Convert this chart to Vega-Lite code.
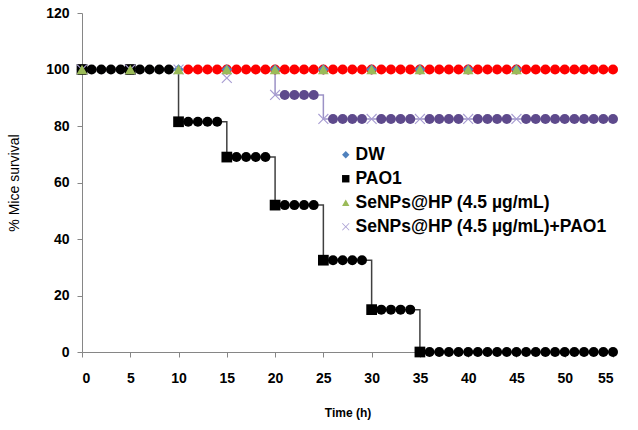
{
  "$schema": "https://vega.github.io/schema/vega-lite/v6.json",
  "width": 531,
  "height": 339,
  "autosize": {"type": "none"},
  "padding": {"left": 82, "top": 13, "right": 25, "bottom": 78},
  "background": "white",
  "config": {
    "view": {"stroke": null},
    "font": "Liberation Sans",
    "axis": {"grid": false, "domainColor": "#868686", "tickColor": "#868686", "tickSize": 5, "labelFont": "Liberation Sans", "labelFontWeight": "bold", "labelFontSize": 14, "labelColor": "#000000", "titleColor": "#000000", "titleFont": "Liberation Sans"}
  },
  "datasets": {
    "steps": [
      {"t": 0, "s": 100, "series": "PAO1"}, {"t": 10, "s": 81.5, "series": "PAO1"}, {"t": 15, "s": 69, "series": "PAO1"}, {"t": 20, "s": 52, "series": "PAO1"}, {"t": 25, "s": 32.5, "series": "PAO1"}, {"t": 30, "s": 15, "series": "PAO1"}, {"t": 35, "s": 0, "series": "PAO1"}, {"t": 55, "s": 0, "series": "PAO1"},
      {"t": 0, "s": 100, "series": "SP"}, {"t": 20, "s": 91, "series": "SP"}, {"t": 25, "s": 82.5, "series": "SP"}, {"t": 55, "s": 82.5, "series": "SP"}
    ],
    "censor": [
      {"t": 11, "s": 100, "series": "DW"}, {"t": 12, "s": 100, "series": "DW"}, {"t": 13, "s": 100, "series": "DW"}, {"t": 14, "s": 100, "series": "DW"}, {"t": 15, "s": 100, "series": "DW"}, {"t": 16, "s": 100, "series": "DW"}, {"t": 17, "s": 100, "series": "DW"}, {"t": 18, "s": 100, "series": "DW"}, {"t": 19, "s": 100, "series": "DW"}, {"t": 20, "s": 100, "series": "DW"},
      {"t": 21, "s": 100, "series": "DW"}, {"t": 22, "s": 100, "series": "DW"}, {"t": 23, "s": 100, "series": "DW"}, {"t": 24, "s": 100, "series": "DW"}, {"t": 25, "s": 100, "series": "DW"}, {"t": 26, "s": 100, "series": "DW"}, {"t": 27, "s": 100, "series": "DW"}, {"t": 28, "s": 100, "series": "DW"}, {"t": 29, "s": 100, "series": "DW"}, {"t": 30, "s": 100, "series": "DW"},
      {"t": 31, "s": 100, "series": "DW"}, {"t": 32, "s": 100, "series": "DW"}, {"t": 33, "s": 100, "series": "DW"}, {"t": 34, "s": 100, "series": "DW"}, {"t": 35, "s": 100, "series": "DW"}, {"t": 36, "s": 100, "series": "DW"}, {"t": 37, "s": 100, "series": "DW"}, {"t": 38, "s": 100, "series": "DW"}, {"t": 39, "s": 100, "series": "DW"}, {"t": 40, "s": 100, "series": "DW"},
      {"t": 41, "s": 100, "series": "DW"}, {"t": 42, "s": 100, "series": "DW"}, {"t": 43, "s": 100, "series": "DW"}, {"t": 44, "s": 100, "series": "DW"}, {"t": 45, "s": 100, "series": "DW"}, {"t": 46, "s": 100, "series": "DW"}, {"t": 47, "s": 100, "series": "DW"}, {"t": 48, "s": 100, "series": "DW"}, {"t": 49, "s": 100, "series": "DW"}, {"t": 50, "s": 100, "series": "DW"},
      {"t": 51, "s": 100, "series": "DW"}, {"t": 52, "s": 100, "series": "DW"}, {"t": 53, "s": 100, "series": "DW"}, {"t": 54, "s": 100, "series": "DW"}, {"t": 55, "s": 100, "series": "DW"},
      {"t": 1, "s": 100, "series": "PAO1"}, {"t": 2, "s": 100, "series": "PAO1"}, {"t": 3, "s": 100, "series": "PAO1"}, {"t": 4, "s": 100, "series": "PAO1"}, {"t": 6, "s": 100, "series": "PAO1"}, {"t": 7, "s": 100, "series": "PAO1"}, {"t": 8, "s": 100, "series": "PAO1"}, {"t": 9, "s": 100, "series": "PAO1"},
      {"t": 11, "s": 81.5, "series": "PAO1"}, {"t": 12, "s": 81.5, "series": "PAO1"}, {"t": 13, "s": 81.5, "series": "PAO1"}, {"t": 14, "s": 81.5, "series": "PAO1"},
      {"t": 16, "s": 69, "series": "PAO1"}, {"t": 17, "s": 69, "series": "PAO1"}, {"t": 18, "s": 69, "series": "PAO1"}, {"t": 19, "s": 69, "series": "PAO1"},
      {"t": 21, "s": 52, "series": "PAO1"}, {"t": 22, "s": 52, "series": "PAO1"}, {"t": 23, "s": 52, "series": "PAO1"}, {"t": 24, "s": 52, "series": "PAO1"},
      {"t": 26, "s": 32.5, "series": "PAO1"}, {"t": 27, "s": 32.5, "series": "PAO1"}, {"t": 28, "s": 32.5, "series": "PAO1"}, {"t": 29, "s": 32.5, "series": "PAO1"},
      {"t": 31, "s": 15, "series": "PAO1"}, {"t": 32, "s": 15, "series": "PAO1"}, {"t": 33, "s": 15, "series": "PAO1"}, {"t": 34, "s": 15, "series": "PAO1"},
      {"t": 36, "s": 0, "series": "PAO1"}, {"t": 37, "s": 0, "series": "PAO1"}, {"t": 38, "s": 0, "series": "PAO1"}, {"t": 39, "s": 0, "series": "PAO1"}, {"t": 40, "s": 0, "series": "PAO1"}, {"t": 41, "s": 0, "series": "PAO1"}, {"t": 42, "s": 0, "series": "PAO1"}, {"t": 43, "s": 0, "series": "PAO1"}, {"t": 44, "s": 0, "series": "PAO1"}, {"t": 45, "s": 0, "series": "PAO1"},
      {"t": 46, "s": 0, "series": "PAO1"}, {"t": 47, "s": 0, "series": "PAO1"}, {"t": 48, "s": 0, "series": "PAO1"}, {"t": 49, "s": 0, "series": "PAO1"}, {"t": 50, "s": 0, "series": "PAO1"}, {"t": 51, "s": 0, "series": "PAO1"}, {"t": 52, "s": 0, "series": "PAO1"}, {"t": 53, "s": 0, "series": "PAO1"}, {"t": 54, "s": 0, "series": "PAO1"}, {"t": 55, "s": 0, "series": "PAO1"},
      {"t": 21, "s": 91, "series": "SP"}, {"t": 22, "s": 91, "series": "SP"}, {"t": 23, "s": 91, "series": "SP"}, {"t": 24, "s": 91, "series": "SP"},
      {"t": 26, "s": 82.5, "series": "SP"}, {"t": 27, "s": 82.5, "series": "SP"}, {"t": 28, "s": 82.5, "series": "SP"}, {"t": 29, "s": 82.5, "series": "SP"},
      {"t": 31, "s": 82.5, "series": "SP"}, {"t": 32, "s": 82.5, "series": "SP"}, {"t": 33, "s": 82.5, "series": "SP"}, {"t": 34, "s": 82.5, "series": "SP"},
      {"t": 36, "s": 82.5, "series": "SP"}, {"t": 37, "s": 82.5, "series": "SP"}, {"t": 38, "s": 82.5, "series": "SP"}, {"t": 39, "s": 82.5, "series": "SP"},
      {"t": 41, "s": 82.5, "series": "SP"}, {"t": 42, "s": 82.5, "series": "SP"}, {"t": 43, "s": 82.5, "series": "SP"}, {"t": 44, "s": 82.5, "series": "SP"},
      {"t": 46, "s": 82.5, "series": "SP"}, {"t": 47, "s": 82.5, "series": "SP"}, {"t": 48, "s": 82.5, "series": "SP"}, {"t": 49, "s": 82.5, "series": "SP"}, {"t": 50, "s": 82.5, "series": "SP"},
      {"t": 51, "s": 82.5, "series": "SP"}, {"t": 52, "s": 82.5, "series": "SP"}, {"t": 53, "s": 82.5, "series": "SP"}, {"t": 54, "s": 82.5, "series": "SP"}, {"t": 55, "s": 82.5, "series": "SP"}
    ],
    "events": [
      {"t": 0, "s": 100, "series": "DW"}, {"t": 5, "s": 100, "series": "DW"}, {"t": 10, "s": 100, "series": "DW"}, {"t": 15, "s": 100, "series": "DW"}, {"t": 20, "s": 100, "series": "DW"}, {"t": 25, "s": 100, "series": "DW"}, {"t": 30, "s": 100, "series": "DW"}, {"t": 35, "s": 100, "series": "DW"}, {"t": 40, "s": 100, "series": "DW"}, {"t": 45, "s": 100, "series": "DW"},
      {"t": 0, "s": 100, "series": "PAO1"}, {"t": 5, "s": 100, "series": "PAO1"}, {"t": 10, "s": 81.5, "series": "PAO1"}, {"t": 15, "s": 69, "series": "PAO1"}, {"t": 20, "s": 52, "series": "PAO1"}, {"t": 25, "s": 32.5, "series": "PAO1"}, {"t": 30, "s": 15, "series": "PAO1"}, {"t": 35, "s": 0, "series": "PAO1"},
      {"t": 0, "s": 100, "series": "SeNPs@HP (4.5 µg/mL)+PAO1"}, {"t": 5, "s": 100, "series": "SeNPs@HP (4.5 µg/mL)+PAO1"}, {"t": 10, "s": 100, "series": "SeNPs@HP (4.5 µg/mL)+PAO1"}, {"t": 15, "s": 97, "series": "SeNPs@HP (4.5 µg/mL)+PAO1"}, {"t": 20, "s": 91, "series": "SeNPs@HP (4.5 µg/mL)+PAO1"}, {"t": 25, "s": 82.5, "series": "SeNPs@HP (4.5 µg/mL)+PAO1"}, {"t": 30, "s": 82.5, "series": "SeNPs@HP (4.5 µg/mL)+PAO1"}, {"t": 35, "s": 82.5, "series": "SeNPs@HP (4.5 µg/mL)+PAO1"}, {"t": 40, "s": 82.5, "series": "SeNPs@HP (4.5 µg/mL)+PAO1"}, {"t": 45, "s": 82.5, "series": "SeNPs@HP (4.5 µg/mL)+PAO1"},
      {"t": 0, "s": 100, "series": "SeNPs@HP (4.5 µg/mL)"}, {"t": 5, "s": 100, "series": "SeNPs@HP (4.5 µg/mL)"}, {"t": 10, "s": 100, "series": "SeNPs@HP (4.5 µg/mL)"}, {"t": 15, "s": 100, "series": "SeNPs@HP (4.5 µg/mL)"}, {"t": 20, "s": 100, "series": "SeNPs@HP (4.5 µg/mL)"}, {"t": 25, "s": 100, "series": "SeNPs@HP (4.5 µg/mL)"}, {"t": 30, "s": 100, "series": "SeNPs@HP (4.5 µg/mL)"}, {"t": 35, "s": 100, "series": "SeNPs@HP (4.5 µg/mL)"}, {"t": 40, "s": 100, "series": "SeNPs@HP (4.5 µg/mL)"}, {"t": 45, "s": 100, "series": "SeNPs@HP (4.5 µg/mL)"}
    ]
  },
  "encoding": {
    "x": {"field": "t", "type": "quantitative", "scale": {"domain": [0, 55], "nice": false}, "axis": {"values": [0,5,10,15,20,25,30,35,40,45,50,55], "title": "Time (h)", "titleFontWeight": "bold", "titleFontSize": 12, "titlePadding": 22, "labelPadding": 14}},
    "y": {"field": "s", "type": "quantitative", "scale": {"domain": [0, 120], "nice": false}, "axis": {"values": [0,20,40,60,80,100,120], "title": "% Mice survival", "titleFontWeight": "normal", "titleFontSize": 14, "titlePadding": 24, "labelPadding": 8}}
  },
  "layer": [
    {
      "data": {"name": "steps"},
      "mark": {"type": "line", "interpolate": "step-after", "strokeWidth": 1.5},
      "encoding": {
        "detail": {"field": "series"},
        "color": {"field": "series", "type": "nominal", "scale": {"domain": ["PAO1", "SP"], "range": ["#404040", "#9C92C6"]}, "legend": null}
      }
    },
    {
      "data": {"name": "censor"},
      "mark": {"type": "point", "filled": true, "shape": "circle", "size": 100, "opacity": 1},
      "encoding": {
        "color": {"field": "series", "type": "nominal", "scale": {"domain": ["DW", "PAO1", "SP"], "range": ["#FF0000", "#000000", "#5E4A8C"]}, "legend": null}
      }
    },
    {
      "data": {"name": "events"},
      "mark": {"type": "point", "filled": true, "size": 115, "opacity": 1},
      "encoding": {
        "color": {"field": "series", "type": "nominal",
          "scale": {"domain": ["DW", "PAO1", "SeNPs@HP (4.5 µg/mL)", "SeNPs@HP (4.5 µg/mL)+PAO1"], "range": ["#4F81BD", "#000000", "#9BBB59", "#A79CD2"]},
          "legend": {"title": null, "orient": "none", "legendX": 255, "legendY": 133, "labelFontSize": 17.5, "labelFontWeight": "bold", "labelFont": "Liberation Sans", "labelColor": "#000000", "symbolSize": 55, "rowPadding": 5, "labelOffset": 1, "symbolOpacity": 1, "labelLimit": 400}},
        "shape": {"field": "series", "type": "nominal", "scale": {"domain": ["DW", "PAO1", "SeNPs@HP (4.5 µg/mL)", "SeNPs@HP (4.5 µg/mL)+PAO1"], "range": ["diamond", "square", "triangle-up", "M-1,-0.85L-0.85,-1L0,-0.15L0.85,-1L1,-0.85L0.15,0L1,0.85L0.85,1L0,0.15L-0.85,1L-1,0.85L-0.15,0Z"]},
          "legend": {"title": null, "orient": "none", "legendX": 255, "legendY": 133, "labelFontSize": 17.5, "labelFontWeight": "bold", "labelFont": "Liberation Sans", "labelColor": "#000000", "symbolSize": 55, "rowPadding": 5, "labelOffset": 1, "symbolOpacity": 1, "labelLimit": 400}}
      }
    }
  ],
  "resolve": {"scale": {"color": "independent", "shape": "independent"}}
}
